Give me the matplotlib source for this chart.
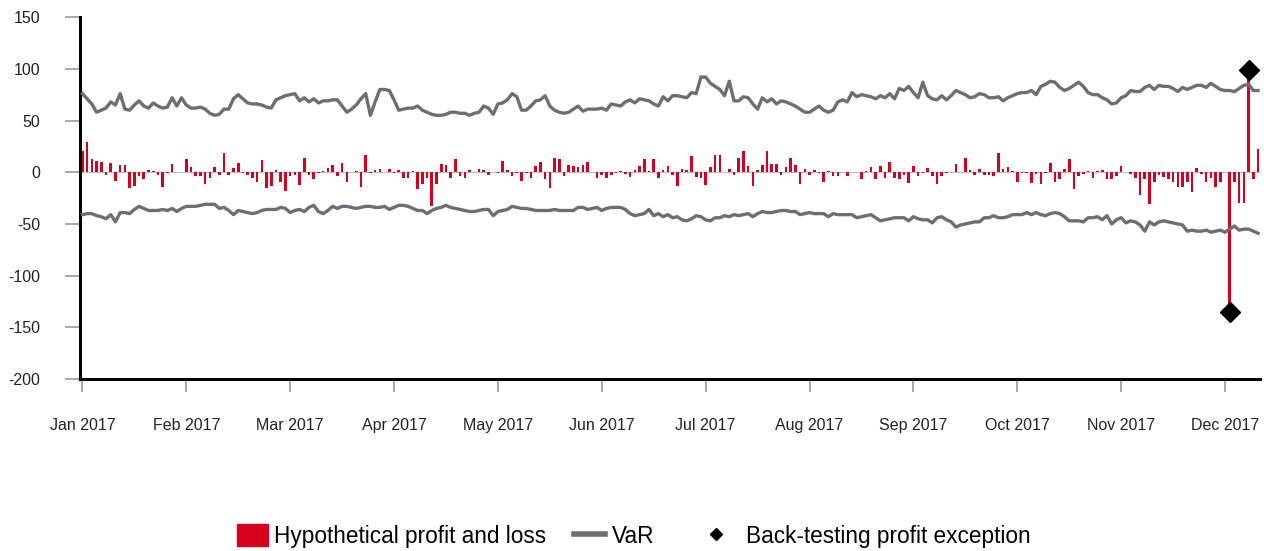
import numpy as np
import matplotlib.pyplot as plt
from matplotlib.patches import Patch
from matplotlib.lines import Line2D

plt.rcParams['font.family'] = ['Liberation Sans', 'DejaVu Sans']
plt.rcParams['axes.unicode_minus'] = False

months = ['Jan 2017', 'Feb 2017', 'Mar 2017', 'Apr 2017', 'May 2017', 'Jun 2017',
          'Jul 2017', 'Aug 2017', 'Sep 2017', 'Oct 2017', 'Nov 2017', 'Dec 2017']
days_per_month = 22

# daily hypothetical profit and loss
pnl = [21, 29, 13, 11, 10, -3, 9, -8, 7, 7, -15, -13, -4, -7, 2, 1, -3, -14, -1, 8, 0, 0, 13, 5,
       -4, -4, -11, -6, 5, -3, 19, -3, 4, 9, -1, -3, -6, -9, 12, -15, -13, 2, -9, -18, -4, -3, -12, 14, -3, -7,
       -1, 1, 4, 7, -4, 9, -9, 0, 1, -14, 17, -1, 2, 3, 0, 3, -1, 2, -6, -6, 1, -16, -11, -6, -33,
       -11, 8, 7, -6, 13, -4, -6, 2, 0, 3, 2, -3, 0, -1, 11, 2, -4, -1, -8, -1, -6, 6, 10, -7, -15, 14,
       13, -4, 7, 6, 5, 7, 10, 0, -6, -3, -6, -3, -1, 1, -2, -5, 2, 6, 13, 1, 13, -6, 2, 6, -3,
       -13, 3, 2, 16, -5, -6, -12, 5, 17, 17, 0, 3, -3, 14, 21, 6, -13, 2, 7, 21, 8, 8, -3, 5, 14,
       7, -11, 3, -3, 2, -1, -9, 1, -4, -4, 0, -4, 0, 0, -7, 1, 5, -7, 6, -6, 10, -6, -7, -3, -10, 6,
       -4, -1, 4, -4, -11, -4, -1, 0, 8, 0, 14, 2, -3, 3, -3, -3, -4, 19, 3, 5, 1, -9, -1, -1, -10,
       -2, -11, -1, 9, -9, -7, 3, 13, -16, -4, -2, 1, -6, 1, 2, -7, -7, -4, 6, 0, -2, -6, -22, -7, -31, -9,
       -3, -5, -7, -9, -14, -14, -9, -19, 4, -2, -9, -6, -14, -9, 0, -135, -9, -30, -30, 99, -7, 22]

# VaR, upper and lower bound
var_up = [76, 71, 66, 58, 60, 62, 68, 65, 76, 61, 60, 65, 69, 64, 62, 67, 64, 62, 63, 72, 64, 72, 65, 62,
          62, 63, 61, 57, 55, 56, 61, 61, 71, 75, 71, 67, 66, 66, 65, 63, 62, 70, 72, 74, 75, 76, 69, 72, 68, 71,
          67, 69, 69, 70, 70, 64, 58, 61, 65, 71, 76, 55, 68, 80, 80, 79, 70, 60, 61, 62, 62, 64, 60, 58, 56,
          55, 55, 56, 58, 58, 57, 57, 55, 57, 58, 64, 62, 56, 66, 67, 70, 76, 73, 60, 60, 64, 69, 70, 74, 64, 60,
          58, 57, 58, 61, 64, 59, 61, 61, 61, 62, 60, 66, 65, 64, 68, 70, 67, 71, 70, 69, 66, 64, 73, 69, 74,
          74, 73, 72, 77, 76, 92, 92, 86, 83, 80, 74, 88, 69, 69, 73, 72, 66, 61, 72, 68, 71, 66, 69, 68, 66,
          64, 61, 58, 58, 61, 64, 60, 58, 60, 68, 70, 68, 77, 73, 75, 74, 73, 71, 74, 72, 76, 71, 81, 79, 83, 77,
          72, 87, 74, 71, 70, 74, 70, 74, 79, 77, 75, 72, 73, 76, 75, 72, 72, 73, 69, 72, 74, 76, 77, 77, 79,
          75, 83, 85, 88, 87, 82, 79, 81, 84, 87, 83, 77, 75, 75, 72, 70, 66, 67, 72, 74, 79, 78, 78, 82, 84, 80,
          84, 83, 83, 81, 78, 82, 80, 82, 84, 84, 82, 86, 83, 80, 79, 79, 78, 81, 84, 85, 79, 79]
var_low = [-41, -40, -40, -42, -43, -45, -41, -48, -39, -39, -40, -36, -33, -35, -37, -37, -37, -36, -37, -35, -38, -35, -33, -33,
           -33, -32, -31, -31, -31, -35, -34, -37, -41, -37, -38, -39, -40, -39, -37, -36, -36, -36, -34, -35, -39, -37, -36, -38, -34, -32,
           -38, -40, -37, -33, -35, -33, -33, -34, -35, -34, -33, -33, -34, -34, -33, -36, -34, -32, -32, -33, -35, -37, -37, -40, -37,
           -35, -34, -32, -34, -35, -36, -37, -38, -38, -37, -36, -36, -42, -38, -37, -36, -33, -34, -35, -35, -36, -37, -37, -37, -37, -36,
           -37, -37, -37, -37, -34, -34, -36, -35, -34, -37, -35, -34, -34, -34, -36, -40, -42, -41, -40, -36, -42, -40, -43, -41, -44,
           -43, -46, -47, -45, -42, -43, -46, -47, -44, -44, -42, -43, -41, -42, -41, -40, -43, -40, -38, -39, -39, -38, -37, -37, -38,
           -38, -41, -40, -39, -40, -40, -40, -43, -40, -41, -41, -41, -41, -44, -43, -42, -41, -44, -47, -46, -45, -44, -44, -44, -47, -43,
           -45, -46, -46, -49, -44, -43, -46, -48, -53, -51, -50, -49, -48, -48, -44, -44, -42, -44, -44, -43, -41, -41, -41, -39, -41,
           -39, -41, -42, -40, -39, -40, -43, -47, -47, -47, -48, -44, -44, -43, -46, -42, -50, -46, -44, -49, -47, -48, -51, -57, -48, -51,
           -48, -47, -48, -49, -50, -51, -57, -56, -57, -57, -56, -58, -57, -56, -58, -55, -52, -56, -55, -55, -57, -59]

pnl = np.array(pnl)
var_up = np.array(var_up)
var_low = np.array(var_low)
x = np.arange(len(pnl))
exc = (pnl > var_up) | (pnl < var_low)  # back-testing exceptions

red = '#d7001d'
grey = '#6d6e71'

fig = plt.figure(figsize=(12.7, 5.51), dpi=100)
ax = fig.add_axes([0.0632, 0.312, 0.9289, 0.657])

ax.axhline(0, color='#bdbdbd', lw=0.8, zorder=1)
ax.bar(x, pnl, width=0.55, color=red, zorder=2)
ax.plot(x, var_up, color=grey, lw=2.4, zorder=3)
ax.plot(x, var_low, color=grey, lw=2.4, zorder=3)
ax.plot(x[exc], pnl[exc], 'D', color='black', ms=10, zorder=4)

ax.set_xlim(-0.45, len(pnl) - 0.6)
ax.set_ylim(-200, 150)
ax.set_yticks(np.arange(-200, 151, 50))
ax.set_xticks(np.arange(len(months)) * days_per_month)
ax.set_xticklabels(months)

for s in ['top', 'right']:
    ax.spines[s].set_visible(False)
for s in ['left', 'bottom']:
    ax.spines[s].set_color('black')
    ax.spines[s].set_linewidth(2.2)
ax.tick_params(axis='both', color='#999999', width=1.2, labelsize=11.5, labelcolor='#222222')
ax.tick_params(axis='y', length=11, pad=18)
ax.tick_params(axis='x', length=9, pad=19)

# legend in two parts to match spacing
leg1 = fig.legend([Patch(color=red), Line2D([], [], color=grey, lw=4)],
                  ['Hypothetical profit and loss', 'VaR'],
                  loc='center left', bbox_to_anchor=(237 / 1270, 1 - 536 / 551), ncol=2,
                  frameon=False, fontsize=16.3, handlelength=1.37, handleheight=1.1,
                  handletextpad=0.27, columnspacing=1.24, borderpad=0, borderaxespad=0)
leg2 = fig.legend([Line2D([], [], marker='D', color='black', ls='none', ms=6)],
                  ['Back-testing profit exception'],
                  loc='center left', bbox_to_anchor=(700 / 1270, 1 - 536 / 551),
                  frameon=False, fontsize=16.3, handlelength=1.37, handleheight=1.1,
                  handletextpad=0.66, borderpad=0, borderaxespad=0)

plt.savefig('out.png', dpi=100)
